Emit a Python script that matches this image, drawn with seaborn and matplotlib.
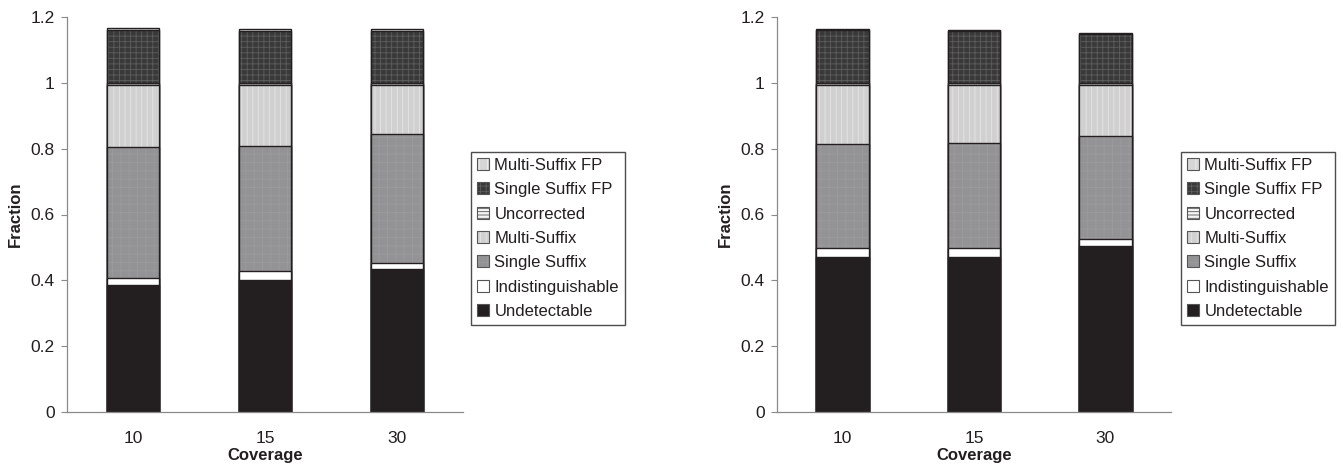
import numpy as np
import pandas as pd
import matplotlib
matplotlib.use("Agg")
import matplotlib.pyplot as plt
from matplotlib.patches import Patch
from matplotlib.legend_handler import HandlerTuple
from matplotlib.ticker import FuncFormatter, FixedLocator
import seaborn as sns

sns.set_style("white")
plt.rcParams['font.family'] = ['Liberation Sans', 'DejaVu Sans']
plt.rcParams['hatch.linewidth'] = 0.6

coverage = ["10", "15", "30"]
series_names = ["Undetectable", "Indistinguishable", "Single Suffix", "Multi-Suffix",
                "Uncorrected", "Single Suffix FP", "Multi-Suffix FP"]

left_values = {
    "Undetectable":      [0.386, 0.401, 0.434],
    "Indistinguishable": [0.020, 0.028, 0.020],
    "Single Suffix":     [0.398, 0.379, 0.390],
    "Multi-Suffix":      [0.188, 0.185, 0.149],
    "Uncorrected":       [0.007, 0.006, 0.006],
    "Single Suffix FP":  [0.160, 0.158, 0.158],
    "Multi-Suffix FP":   [0.008, 0.007, 0.007],
}
right_values = {
    "Undetectable":      [0.472, 0.472, 0.503],
    "Indistinguishable": [0.027, 0.025, 0.023],
    "Single Suffix":     [0.314, 0.320, 0.314],
    "Multi-Suffix":      [0.180, 0.176, 0.154],
    "Uncorrected":       [0.006, 0.006, 0.005],
    "Single Suffix FP":  [0.160, 0.158, 0.149],
    "Multi-Suffix FP":   [0.004, 0.003, 0.004],
}

face = {
    "Undetectable": "#231f20",
    "Indistinguishable": "#ffffff",
    "Single Suffix": "#939395",
    "Multi-Suffix": "#d0d0d0",
    "Uncorrected": "#f4f4f4",
    "Single Suffix FP": "#3a393a",
    "Multi-Suffix FP": "#d6d6d6",
}
hatch = {
    "Undetectable": None,
    "Indistinguishable": None,
    "Single Suffix": "++",
    "Multi-Suffix": "|||",
    "Uncorrected": "-----",
    "Single Suffix FP": "+++",
    "Multi-Suffix FP": "||",
}
hatch_color = {
    "Undetectable": "#231f20",
    "Indistinguishable": "#ffffff",
    "Single Suffix": "#9b9b9d",
    "Multi-Suffix": "#e6e6e6",
    "Uncorrected": "#555555",
    "Single Suffix FP": "#5e5e5e",
    "Multi-Suffix FP": "#efefef",
}

ink = "#231f20"
spine_col = "#8a8a8a"

W, H = 1343, 468
fig = plt.figure(figsize=(W / 100, H / 100), dpi=100)
ax_l = fig.add_axes([67 / W, 56 / H, 396 / W, 395 / H])
ax_r = fig.add_axes([777 / W, 56 / H, 394 / W, 395 / H])


def draw(ax, values):
    df = pd.DataFrame(values, index=coverage)
    cum = df[series_names].cumsum(axis=1)
    for name in reversed(series_names):
        d = pd.DataFrame({"Coverage": coverage, "cum": cum[name].values})
        sns.barplot(data=d, x="Coverage", y="cum", order=coverage, ax=ax,
                    color=face[name], saturation=1, width=0.4, errorbar=None,
                    hatch=hatch[name], edgecolor=hatch_color[name], linewidth=0)
        sns.barplot(data=d, x="Coverage", y="cum", order=coverage, ax=ax,
                    color=face[name], saturation=1, width=0.4, errorbar=None,
                    facecolor="none", edgecolor=ink, linewidth=1.0)
    ax.set_ylim(0, 1.2)
    ax.set_xlim(-0.5, 2.5)
    ax.set_yticks(np.arange(0, 1.21, 0.2))
    ax.yaxis.set_major_formatter(FuncFormatter(lambda v, p: f"{v:g}"))
    ax.xaxis.set_minor_locator(FixedLocator([0.5, 1.5]))
    ax.tick_params(axis="x", which="major", length=0, pad=14, labelsize=12.5, labelcolor=ink)
    ax.tick_params(axis="x", which="minor", length=5, width=0.8, color=spine_col, direction="out")
    ax.tick_params(axis="y", length=4, width=0.8, color=spine_col, direction="out",
                   labelsize=12.5, labelcolor=ink, pad=5, left=True)
    for s in ["top", "right"]:
        ax.spines[s].set_visible(False)
    for s in ["left", "bottom"]:
        ax.spines[s].set_color(spine_col)
        ax.spines[s].set_linewidth(0.9)
    ax.set_xlabel("Coverage", fontsize=12, fontweight="bold", color=ink, labelpad=1)
    ax.set_ylabel("Fraction", fontsize=12, fontweight="bold", color=ink, labelpad=5)


draw(ax_l, left_values)
draw(ax_r, right_values)

handles = [(Patch(facecolor=face[n], hatch=hatch[n], edgecolor=hatch_color[n], linewidth=0),
            Patch(facecolor="none", edgecolor="#555555", linewidth=0.8))
           for n in reversed(series_names)]
labels = list(reversed(series_names))
for x0 in (471 / W, 1181 / W):
    leg = fig.legend(handles, labels, loc="upper left", bbox_to_anchor=(x0, 1 - 152 / H),
                     frameon=True, fancybox=False, fontsize=12, handlelength=0.75,
                     handleheight=0.75, handletextpad=0.3, labelspacing=0.56,
                     borderpad=0.35, borderaxespad=0,
                     handler_map={tuple: HandlerTuple(ndivide=1, pad=0)})
    leg.get_frame().set_edgecolor(ink)
    leg.get_frame().set_linewidth(1.0)
    for t in leg.get_texts():
        t.set_color(ink)

fig.savefig("out.png", dpi=100)
